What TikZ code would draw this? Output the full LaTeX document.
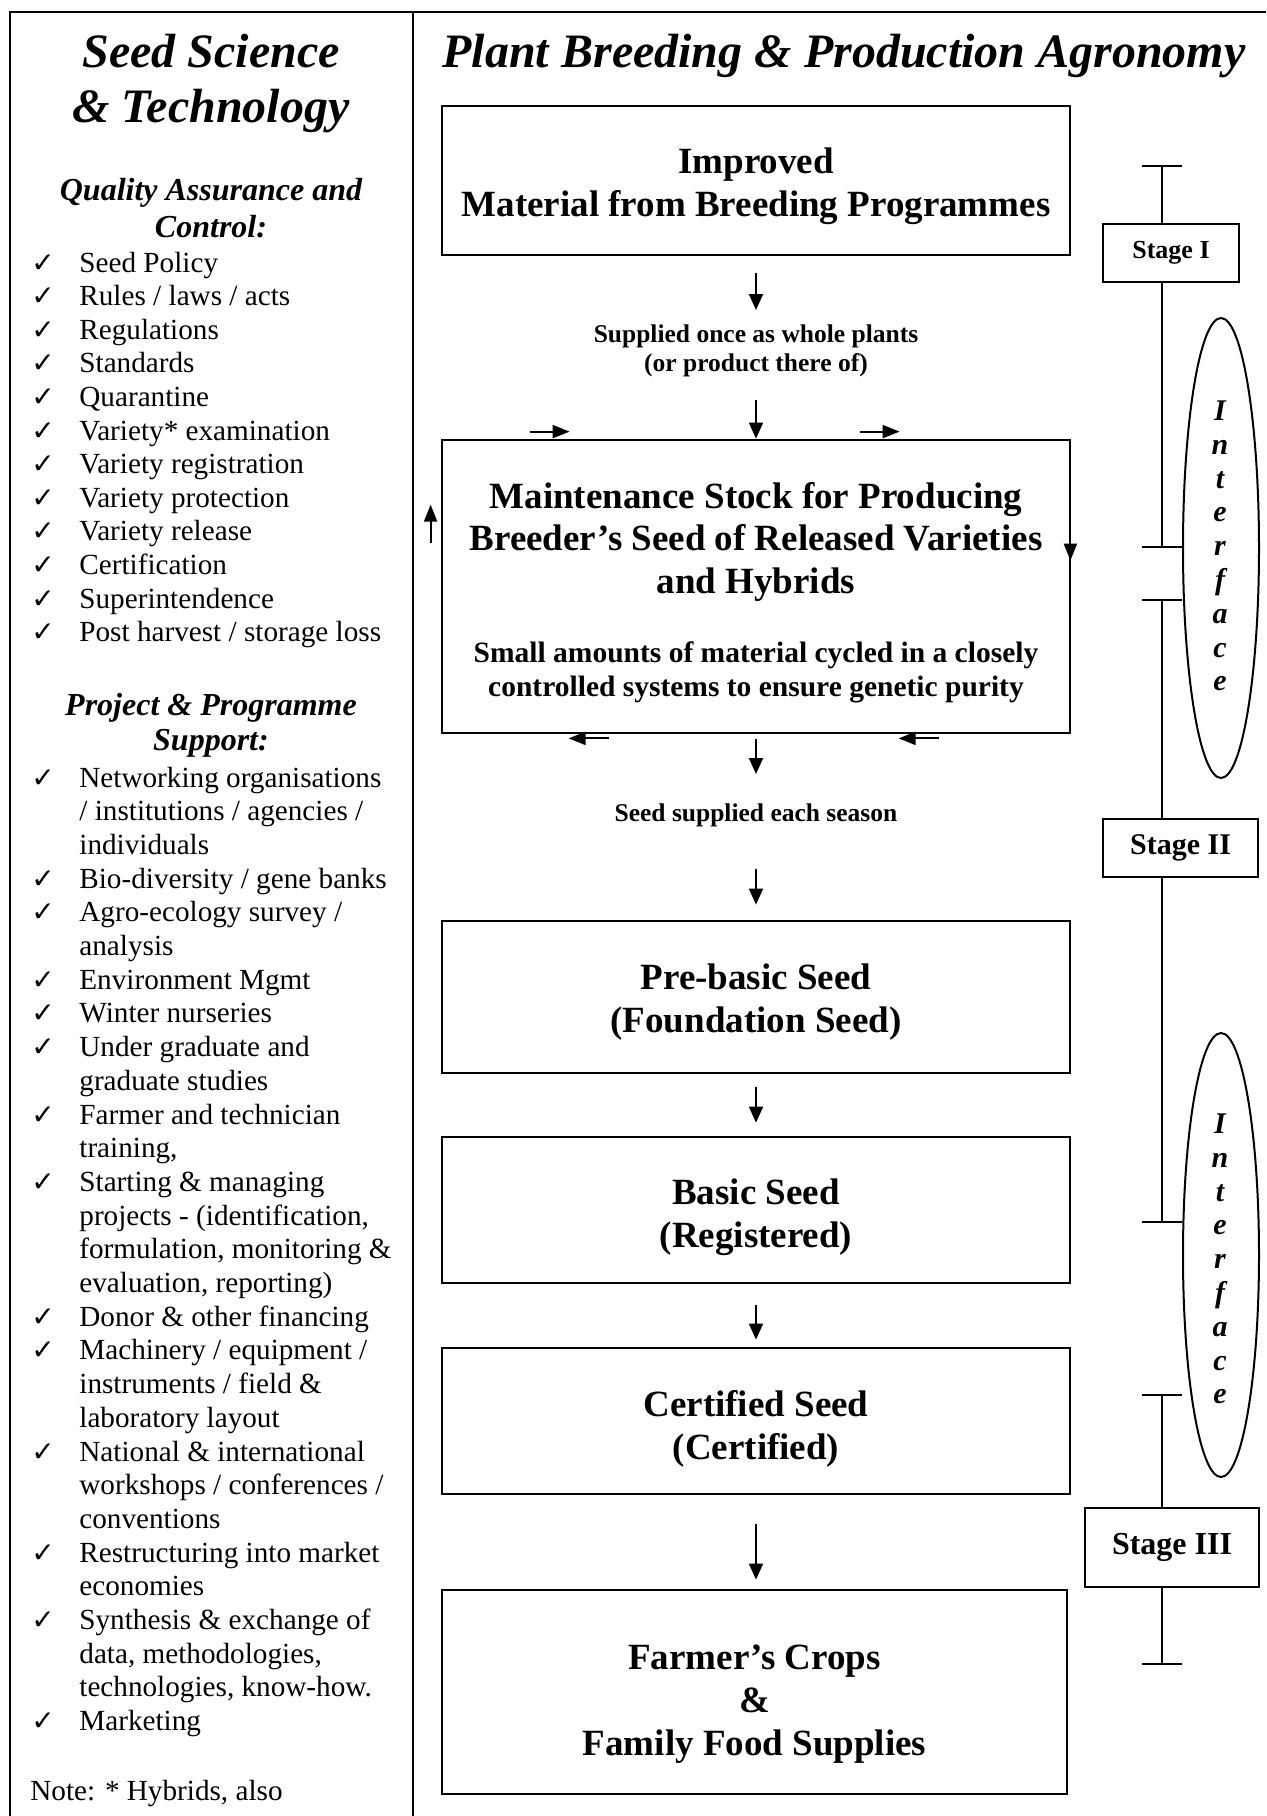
\documentclass[tikz,border=0pt]{standalone}
\usepackage{fontspec}
\setmainfont{Liberation Serif}
\newfontfamily\checkfont{DejaVu Sans}
\usetikzlibrary{arrows.meta,shapes.geometric,calc}
\tikzset{
  frameline/.style={line width=1pt},
  mainbox/.style={draw, line width=1.4pt, inner sep=0pt, minimum width=314pt},
  stagebox/.style={draw, line width=1.1pt, inner sep=0pt, font=\bfseries},
  boxtext/.style={font=\fontsize{18.5pt}{21.5pt}\selectfont\bfseries, anchor=base, inner sep=0pt},
  smalltext/.style={font=\fontsize{14.75pt}{17pt}\selectfont\bfseries, anchor=base, inner sep=0pt},
  labeltext/.style={font=\fontsize{12.75pt}{14.5pt}\selectfont\bfseries, anchor=base, inner sep=0pt},
  titletext/.style={font=\fontsize{24pt}{28pt}\selectfont\bfseries\itshape, anchor=base, inner sep=0pt},
  subhead/.style={font=\fontsize{16pt}{19pt}\selectfont\bfseries\itshape, anchor=base, inner sep=0pt},
  itemtext/.style={font=\fontsize{14.6pt}{16.8pt}\selectfont, anchor=base west, inner sep=0pt},
  checkmark/.style={font=\fontsize{14pt}{16pt}\checkfont, anchor=base west, inner sep=0pt},
  arr/.style={-{Triangle[length=8pt,width=7pt]}, line width=0.9pt},
  sarr/.style={-{Triangle[length=8.5pt,width=6.5pt]}, line width=1pt},
  tline/.style={line width=1pt},
  iface/.style={draw, ellipse, line width=1pt, inner sep=0pt},
  ifacetext/.style={font=\fontsize{15pt}{16.9pt}\selectfont\bfseries\itshape, align=center, inner sep=0pt},
}
\begin{document}
\begin{tikzpicture}[x=0.5pt,y=-0.5pt]
\useasboundingbox (0,0) rectangle (1266,1816);
% frame
\draw[frameline] (10,1816) -- (10,12) -- (1266,12);
\draw[frameline] (413,12) -- (413,1816);

% ---------------- left column ----------------
\node[titletext] (lt1) at (211,67) {Seed Science};
\node[titletext] (lt2) at (211,122) {\& Technology};
\node[subhead] (qh1) at (211,200) {Quality Assurance and};
\node[subhead] (qh2) at (211,237) {Control:};
\foreach \t [count=\k from 0] in {Seed Policy, Rules / laws / acts, Regulations, Standards, Quarantine, Variety* examination, Variety registration, Variety protection, Variety release, Certification, Superintendence, Post harvest / storage loss}{
  \node[itemtext] (qa\k) at (79,{272+33.6*\k}) {\t};
  \node[checkmark] (qc\k) at (31,{272+33.6*\k}) {✓};
}
\node[subhead] (ph1) at (211,715) {Project \& Programme};
\node[subhead] (ph2) at (211,750) {Support:};
\foreach \t [count=\k from 0] in {Networking organisations, / institutions / agencies /, individuals, Bio-diversity / gene banks, Agro-ecology survey /, analysis, Environment Mgmt, Winter nurseries, Under graduate and, graduate studies, Farmer and technician, {training,}, Starting \& managing, {projects - (identification,}, {formulation, monitoring \&}, {evaluation, reporting)}, Donor \& other financing, Machinery / equipment /, instruments / field \&, laboratory layout, National \& international, workshops / conferences /, conventions, Restructuring into market, economies, Synthesis \& exchange of, {data, methodologies,}, {technologies, know-how.}, Marketing}{
  \node[itemtext] (pa\k) at (79,{787+33.7*\k}) {\t};
}
\foreach \k in {0,3,4,6,7,8,10,12,16,17,20,23,25,28}{
  \node[checkmark] (pc\k) at (31,{787+33.7*\k}) {✓};
}
\node[itemtext] (note) at (30,1800) {Note: * Hybrids, also};

% ---------------- right column ----------------
\node[titletext] (rt) at (844,67) {Plant Breeding \& Production Agronomy};

\node[mainbox, minimum height=74.5pt] (improved) at (756,180.5) {};
\node[boxtext] (im1) at (756,173) {Improved};
\node[boxtext] (im2) at (756,216) {Material from Breeding Programmes};

\node[labeltext] (sp1) at (756,342) {Supplied once as whole plants};
\node[labeltext] (sp2) at (756,371) {(or product there of)};

\node[mainbox, minimum height=146.5pt] (maint) at (756,586.5) {};
\node[boxtext] (mt1) at (756,508) {Maintenance Stock for Producing};
\node[boxtext] (mt2) at (756,550) {Breeder’s Seed of Released Varieties};
\node[boxtext] (mt3) at (756,593) {and Hybrids};
\node[smalltext] (mt4) at (756,662) {Small amounts of material cycled in a closely};
\node[smalltext] (mt5) at (756,696) {controlled systems to ensure genetic purity};

\node[labeltext] (ss) at (756,821) {Seed supplied each season};

\node[mainbox, minimum height=76pt] (prebasic) at (756,997) {};
\node[boxtext] (pb1) at (756,989) {Pre-basic Seed};
\node[boxtext] (pb2) at (756,1032) {(Foundation Seed)};

\node[mainbox, minimum height=73pt] (basic) at (756,1210) {};
\node[boxtext] (bs1) at (756,1204) {Basic Seed};
\node[boxtext] (bs2) at (756,1247) {(Registered)};

\node[mainbox, minimum height=73pt] (certified) at (756,1421) {};
\node[boxtext] (cs1) at (756,1416) {Certified Seed};
\node[boxtext] (cs2) at (756,1459) {(Certified)};

\node[mainbox, minimum width=312.5pt, minimum height=102pt] (farmer) at (754.5,1692) {};
\node[boxtext] (fc1) at (754.5,1669) {Farmer’s Crops};
\node[boxtext] (fc2) at (754.5,1712) {\&};
\node[boxtext] (fc3) at (754.5,1755) {Family Food Supplies};

% main arrows
\coordinate (a1tip) at (756,310);
\coordinate (a2tail) at (756,400);
\coordinate (a3tip) at (756,774);
\coordinate (a4tail) at (756,869);
\draw[arr, shorten <=8.5pt] (improved.south) -- (a1tip);
\draw[arr] (a2tail) -- (maint.north);
\draw[arr, shorten <=2.5pt] (maint.south) -- (a3tip);
\draw[arr, shorten >=7.5pt] (a4tail) -- (prebasic.north);
\draw[arr, shorten <=6.5pt, shorten >=6.5pt] (prebasic.south) -- (basic.north);
\draw[arr, shorten <=10.5pt, shorten >=3.5pt] (basic.south) -- (certified.north);
\draw[arr, shorten <=14.5pt, shorten >=4.5pt] (certified.south) -- (certified.south |- farmer.north);

% cycling arrows round the maintenance box
\draw[sarr] ([shift={(89,-7)}]maint.north west) -- ++(40,0);
\draw[sarr] ([shift={(419,-7)}]maint.north west) -- ++(40,0);
\draw[sarr] ([shift={(-10,104)}]maint.north west) -- ++(0,-38);
\draw[sarr] ([shift={(-1,82)}]maint.north east) -- ++(0,40);
\draw[sarr] ([shift={(168,4)}]maint.south west) -- ++(-40,0);
\draw[sarr] ([shift={(498,4)}]maint.south west) -- ++(-40,0);

% ---------------- stages timeline ----------------
\node[stagebox, minimum width=68pt, minimum height=29pt, font=\fontsize{13pt}{15pt}\selectfont\bfseries] (s1) at (1171,253) {Stage I};
\node[stagebox, minimum width=77.5pt, minimum height=29pt, font=\fontsize{15pt}{17pt}\selectfont\bfseries] (s2) at (1180.5,848) {Stage II};
\node[stagebox, minimum width=87pt, minimum height=39.5pt, font=\fontsize{16pt}{18pt}\selectfont\bfseries] (s3) at (1172,1547.5) {Stage III};

\node[iface, minimum width=38pt, minimum height=230pt] (e1) at (1221,548) {};
\node[ifacetext] (e1t) at (1220,546) {I\\n\\t\\e\\r\\f\\a\\c\\e};
\node[iface, minimum width=38pt, minimum height=222pt] (e2) at (1221,1255) {};
\node[ifacetext] (e2t) at (1220,1259) {I\\n\\t\\e\\r\\f\\a\\c\\e};

\coordinate (tA) at (1162,166);
\coordinate (tB) at (1162,547);
\coordinate (tC) at (1162,600);
\coordinate (tD) at (1162,1222);
\coordinate (tE) at (1162,1395);
\coordinate (tF) at (1162,1664);
\draw[tline] (tA) -- (s1.north -| tA);
\draw[tline] (s1.south -| tA) -- (tB);
\draw[tline] (tC) -- (s2.north -| tC);
\draw[tline] (s2.south -| tC) -- (tD);
\draw[tline] (tE) -- (s3.north -| tE);
\draw[tline] (s3.south -| tE) -- (tF);
\draw[tline] ([xshift=-10pt]tA) -- ([xshift=10pt]tA);
\draw[tline] ([xshift=-10pt]tB) -- (tB -| e1.west);
\draw[tline] ([xshift=-10pt]tC) -- (tC -| e1.west);
\draw[tline] ([xshift=-10pt]tD) -- (tD -| e2.west);
\draw[tline] ([xshift=-10pt]tE) -- ([xshift=10pt]tE);
\draw[tline] ([xshift=-10pt]tF) -- ([xshift=10pt]tF);
\end{tikzpicture}
\end{document}
